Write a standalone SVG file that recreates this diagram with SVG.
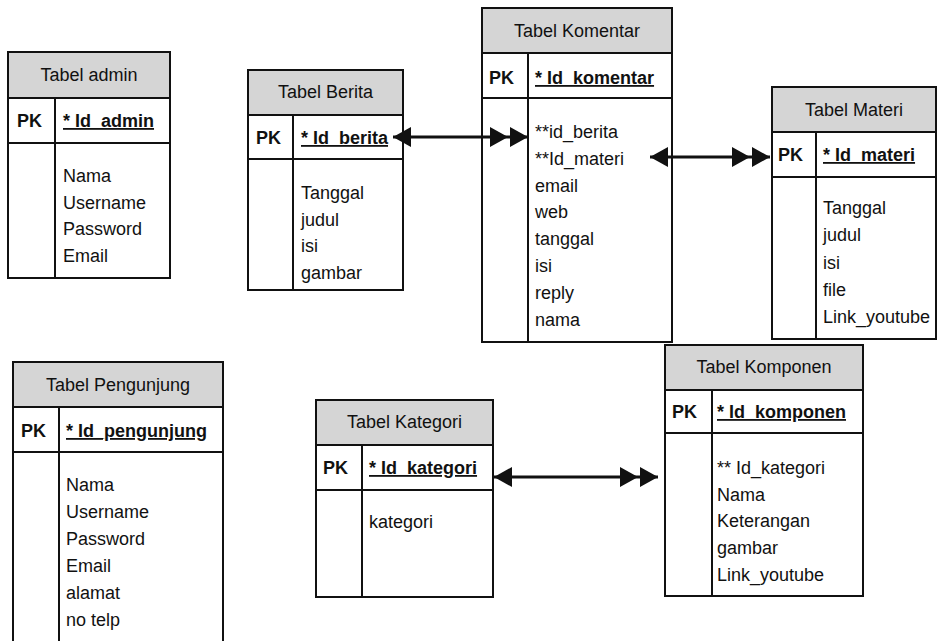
<svg xmlns="http://www.w3.org/2000/svg" width="938" height="641" viewBox="0 0 938 641">
  <defs>
    <style>
      text { font-family: "Liberation Sans", Arial, sans-serif; font-size: 18px; fill: #111; }
      .title { fill: #d5d5d5; stroke: #111; stroke-width: 2; }
      .cell { fill: #fff; stroke: #111; stroke-width: 2; }
      .col { stroke: #111; stroke-width: 2; }
      .hd { text-anchor: middle; }
      .pk { font-weight: bold; }
      .key { font-weight: bold; text-decoration: underline; }
      .rel { stroke: #111; stroke-width: 3; fill: none; }
    </style>
    <!-- "one" end of a relation: single filled arrowhead -->
    <marker id="one" viewBox="0 0 18 20" refX="18" refY="10" markerWidth="18" markerHeight="20" markerUnits="userSpaceOnUse" orient="auto-start-reverse">
      <path d="M0,0 L18,10 L0,20 Z" fill="#111"/>
    </marker>
    <!-- "many" end of a relation: double filled arrowhead -->
    <marker id="many" viewBox="0 0 38 20" refX="38" refY="10" markerWidth="38" markerHeight="20" markerUnits="userSpaceOnUse" orient="auto">
      <path d="M0,0 L18,10 L0,20 Z M20,0 L38,10 L20,20 Z" fill="#111"/>
    </marker>
  </defs>
  <rect width="938" height="641" fill="#fff"/>

  <!-- Tabel admin -->
  <g id="tabel-admin">
    <rect class="title" x="8" y="52" width="162" height="46"/>
    <rect class="cell" x="8" y="98" width="162" height="45"/>
    <rect class="cell" x="8" y="143" width="162" height="135"/>
    <line class="col" x1="55" y1="98" x2="55" y2="278"/>
    <text class="hd" x="89" y="81">Tabel admin</text>
    <text class="pk" x="17" y="127">PK</text>
    <text class="key" x="63" y="127">* Id_admin</text>
    <text x="63" y="182">Nama</text>
    <text x="63" y="208.5">Username</text>
    <text x="63" y="235">Password</text>
    <text x="63" y="261.5">Email</text>
  </g>

  <!-- Tabel Berita -->
  <g id="tabel-berita">
    <rect class="title" x="248" y="70" width="155" height="45"/>
    <rect class="cell" x="248" y="115" width="155" height="44"/>
    <rect class="cell" x="248" y="159" width="155" height="131"/>
    <line class="col" x1="293" y1="115" x2="293" y2="290"/>
    <text class="hd" x="325.5" y="98">Tabel Berita</text>
    <text class="pk" x="256" y="144">PK</text>
    <text class="key" x="301" y="144">* Id_berita</text>
    <text x="301" y="199">Tanggal</text>
    <text x="301" y="225.5">judul</text>
    <text x="301" y="252">isi</text>
    <text x="301" y="278.5">gambar</text>
  </g>

  <!-- Tabel Komentar -->
  <g id="tabel-komentar">
    <rect class="title" x="482" y="8" width="190" height="45"/>
    <rect class="cell" x="482" y="53" width="190" height="45"/>
    <rect class="cell" x="482" y="98" width="190" height="244"/>
    <line class="col" x1="528" y1="53" x2="528" y2="342"/>
    <text class="hd" x="577" y="37">Tabel Komentar</text>
    <text class="pk" x="489" y="84">PK</text>
    <text class="key" x="535" y="84">* Id_komentar</text>
    <text x="535" y="138">**id_berita</text>
    <text x="535" y="164.8">**Id_materi</text>
    <text x="535" y="191.6">email</text>
    <text x="535" y="218.4">web</text>
    <text x="535" y="245.2">tanggal</text>
    <text x="535" y="272">isi</text>
    <text x="535" y="298.8">reply</text>
    <text x="535" y="325.6">nama</text>
  </g>

  <!-- Tabel Materi -->
  <g id="tabel-materi">
    <rect class="title" x="772" y="87" width="164" height="45"/>
    <rect class="cell" x="772" y="132" width="164" height="45"/>
    <rect class="cell" x="772" y="177" width="164" height="162"/>
    <line class="col" x1="816" y1="132" x2="816" y2="339"/>
    <text class="hd" x="854" y="116">Tabel Materi</text>
    <text class="pk" x="778" y="161">PK</text>
    <text class="key" x="823" y="161">* Id_materi</text>
    <text x="823" y="214">Tanggal</text>
    <text x="823" y="241">judul</text>
    <text x="823" y="269">isi</text>
    <text x="823" y="296">file</text>
    <text x="823" y="323">Link_youtube</text>
  </g>

  <!-- Tabel Pengunjung -->
  <g id="tabel-pengunjung">
    <rect class="title" x="13" y="362" width="210" height="45"/>
    <rect class="cell" x="13" y="407" width="210" height="45"/>
    <rect class="cell" x="13" y="452" width="210" height="200"/>
    <line class="col" x1="59" y1="407" x2="59" y2="652"/>
    <text class="hd" x="118" y="391">Tabel Pengunjung</text>
    <text class="pk" x="21" y="437">PK</text>
    <text class="key" x="66" y="437">* Id_pengunjung</text>
    <text x="66" y="491">Nama</text>
    <text x="66" y="518">Username</text>
    <text x="66" y="545">Password</text>
    <text x="66" y="572">Email</text>
    <text x="66" y="599">alamat</text>
    <text x="66" y="626">no telp</text>
  </g>

  <!-- Tabel Kategori -->
  <g id="tabel-kategori">
    <rect class="title" x="316" y="400" width="177" height="45"/>
    <rect class="cell" x="316" y="445" width="177" height="45"/>
    <rect class="cell" x="316" y="490" width="177" height="107"/>
    <line class="col" x1="362" y1="445" x2="362" y2="597"/>
    <text class="hd" x="404.5" y="428">Tabel Kategori</text>
    <text class="pk" x="323" y="474">PK</text>
    <text class="key" x="369" y="474">* Id_kategori</text>
    <text x="369" y="528">kategori</text>
  </g>

  <!-- Tabel Komponen -->
  <g id="tabel-komponen">
    <rect class="title" x="665" y="345" width="198" height="45"/>
    <rect class="cell" x="665" y="390" width="198" height="43"/>
    <rect class="cell" x="665" y="433" width="198" height="163"/>
    <line class="col" x1="712" y1="390" x2="712" y2="596"/>
    <text class="hd" x="764" y="373">Tabel Komponen</text>
    <text class="pk" x="672" y="418">PK</text>
    <text class="key" x="717" y="418">* Id_komponen</text>
    <text x="717" y="474">** Id_kategori</text>
    <text x="717" y="500.7">Nama</text>
    <text x="717" y="527.4">Keterangan</text>
    <text x="717" y="554">gambar</text>
    <text x="717" y="580.8">Link_youtube</text>
  </g>

  <!-- Relations: single head = one, double head = many -->
  <g id="relations">
    <path class="rel" d="M393,137 L528,137" marker-start="url(#one)" marker-end="url(#many)"/>
    <path class="rel" d="M650,157 L770,157" marker-start="url(#one)" marker-end="url(#many)"/>
    <path class="rel" d="M494,477 L658,477" marker-start="url(#one)" marker-end="url(#many)"/>
  </g>
</svg>
